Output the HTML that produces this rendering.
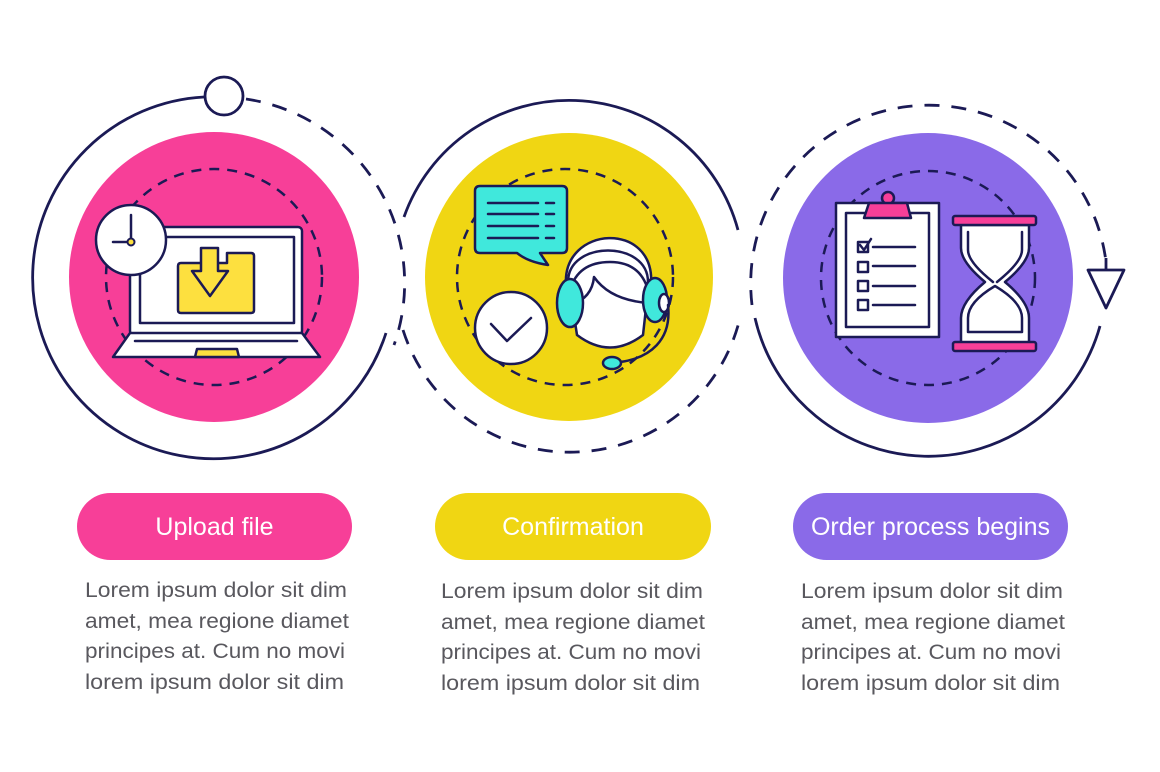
<!DOCTYPE html>
<html><head><meta charset="utf-8"><style>
html,body{margin:0;padding:0;background:#fff;}
svg{display:block;}
text{font-family:"Liberation Sans",sans-serif;}
</style></head><body>
<svg width="1160" height="772" viewBox="0 0 1160 772" xmlns="http://www.w3.org/2000/svg">
<g fill="none" stroke="#1b1a55" stroke-width="2.8">
  <!-- circle 1 outer -->
  <path d="M204,97 A181,181 0 1 0 386,333"/>
  <path d="M246,99 A186,186 0 0 1 394,345" stroke-dasharray="15,12"/>
  <circle cx="224" cy="96" r="19" fill="#fff"/>
  <!-- circle 2 outer -->
  <path d="M404,217 A175,175 0 0 1 738,230"/>
  <path d="M403,330 A175,175 0 0 0 739,322" stroke-dasharray="15,12"/>
  <!-- circle 3 outer -->
  <path d="M752,305 A178,178 0 0 1 1106,262" stroke-dasharray="15,12"/>
  <line x1="1106" y1="258" x2="1106" y2="270"/>
  <path d="M1100,326 A178,178 0 0 1 755,318"/>
  <polygon points="1088,270 1124,270 1106,308" fill="#fff" stroke-linejoin="round"/>
</g>
<!-- filled circles -->
<circle cx="214" cy="277" r="145" fill="#f73f98"/>
<circle cx="569" cy="277" r="144" fill="#f0d613"/>
<circle cx="928" cy="278" r="145" fill="#8a6ae8"/>
<g fill="none" stroke="#1b1a55" stroke-width="2.5" stroke-dasharray="10,8">
  <circle cx="214" cy="277" r="108"/>
  <circle cx="565" cy="277" r="108"/>
  <circle cx="928" cy="278" r="107"/>
</g>
<!-- laptop icon -->
<g stroke="#1b1a55" stroke-width="2.5" stroke-linejoin="round" stroke-linecap="round">
  <rect x="130" y="227" width="172" height="108" rx="4" fill="#fff"/>
  <rect x="140" y="237" width="154" height="86" fill="#fff"/>
  <polygon points="130,333 302,333 320,357 113,357" fill="#fff"/>
  <line x1="135" y1="341" x2="297" y2="341" fill="none"/>
  <polygon points="197,349 237,349 239,357 195,357" fill="#fde03f"/>
  <path d="M181,263 H227 V253 H251 Q254,253 254,256 V310 Q254,313 251,313 H181 Q178,313 178,310 V266 Q178,263 181,263 Z" fill="#fde03f"/>
  <polygon points="201,248 218,248 218,271 228,271 210,296 192,271 201,271" fill="#fde03f"/>
  <circle cx="131" cy="240" r="35" fill="#fff"/>
  <line x1="131" y1="215" x2="131" y2="240" fill="none"/>
  <line x1="113" y1="242" x2="128" y2="242" fill="none"/>
  <circle cx="131" cy="242" r="3.5" fill="#fde03f" stroke-width="2"/>
</g>
<!-- confirmation icon -->
<g stroke="#1b1a55" stroke-width="2.5" stroke-linejoin="round" stroke-linecap="round">
  <path d="M480,186 H562 Q567,186 567,191 V248 Q567,253 562,253 H540 L548,265 Q528,262 517,253 H480 Q475,253 475,248 V191 Q475,186 480,186 Z" fill="#40e8dc"/>
  <g fill="none">
    <line x1="488" y1="203" x2="538" y2="203"/><line x1="546" y1="203" x2="554" y2="203"/>
    <line x1="488" y1="214" x2="538" y2="214"/><line x1="546" y1="214" x2="554" y2="214"/>
    <line x1="488" y1="226" x2="538" y2="226"/><line x1="546" y1="226" x2="554" y2="226"/>
    <line x1="488" y1="238" x2="538" y2="238"/><line x1="546" y1="238" x2="554" y2="238"/>
  </g>
  <circle cx="511" cy="328" r="36" fill="#fff"/>
  <polyline points="491,324 507,341 531,318" fill="none"/>
  <path d="M566,285 C562,225 656,220 651,285 Z" fill="#fff"/>
  <path d="M568,282 C568,240 648,240 648,282" fill="none"/>
  <path d="M570,290 L577,335 Q610,360 643,335 L648,290 Q640,262 610,262 Q578,262 570,290 Z" fill="#fff"/>
  <path d="M571,305 Q592,298 594,277 Q610,300 648,303" fill="none"/>
  <ellipse cx="570" cy="303" rx="13" ry="24" fill="#40e8dc"/>
  <ellipse cx="655" cy="300" rx="12" ry="22" fill="#40e8dc"/>
  <ellipse cx="664" cy="303" rx="5" ry="9" fill="#fff"/>
  <path d="M668,305 C672,340 650,358 620,362" fill="none"/>
  <ellipse cx="612" cy="363" rx="9" ry="6" fill="#40e8dc"/>
</g>
<!-- clipboard & hourglass -->
<g stroke="#1b1a55" stroke-width="2.5" stroke-linejoin="round" stroke-linecap="round">
  <rect x="836" y="203" width="103" height="134" fill="#fff"/>
  <rect x="846" y="213" width="83" height="114" fill="#fff"/>
  <circle cx="888" cy="198" r="6" fill="#f73f98"/>
  <polygon points="869,203 907,203 911,218 864,218" fill="#f73f98"/>
  <g fill="#fff">
    <rect x="858" y="242" width="10" height="10"/>
    <rect x="858" y="262" width="10" height="10"/>
    <rect x="858" y="281" width="10" height="10"/>
    <rect x="858" y="300" width="10" height="10"/>
  </g>
  <polyline points="860,245 864,250 871,239" fill="none"/>
  <g fill="none">
    <line x1="873" y1="247" x2="915" y2="247"/>
    <line x1="873" y1="266" x2="915" y2="266"/>
    <line x1="873" y1="286" x2="915" y2="286"/>
    <line x1="873" y1="305" x2="915" y2="305"/>
  </g>
  <path d="M961,225 V248 Q961,262 985,282 Q961,302 961,318 V343 H1029 V318 Q1029,302 1005,282 Q1029,262 1029,248 V225 Z" fill="#fff"/>
  <path d="M968,232 V250 Q968,262 993,282 M1022,232 V250 Q1022,262 997,282 M968,332 V318 Q968,302 995,286 Q1022,302 1022,318 V332 Z" fill="none"/>
  <rect x="953" y="216" width="83" height="9" rx="2" fill="#f73f98"/>
  <rect x="953" y="342" width="83" height="9" rx="2" fill="#f73f98"/>
</g>
<!-- pills -->
<rect x="77" y="493" width="275" height="67" rx="33.5" fill="#f73f98"/>
<rect x="435" y="493" width="276" height="67" rx="33.5" fill="#f0d613"/>
<rect x="793" y="493" width="275" height="67" rx="33.5" fill="#8a6ae8"/>
<g fill="#fff" font-size="25" text-anchor="middle">
  <text x="214.5" y="535">Upload file</text>
  <text x="573" y="535">Confirmation</text>
  <text x="930.5" y="535">Order process begins</text>
</g>
<g fill="#59585e" font-size="21">
  <text x="85" y="597" textLength="262" lengthAdjust="spacingAndGlyphs">Lorem ipsum dolor sit dim</text>
  <text x="85" y="628" textLength="264" lengthAdjust="spacingAndGlyphs">amet, mea regione diamet</text>
  <text x="85" y="658" textLength="260" lengthAdjust="spacingAndGlyphs">principes at. Cum no movi</text>
  <text x="85" y="689" textLength="259" lengthAdjust="spacingAndGlyphs">lorem ipsum dolor sit dim</text>
  <text x="441" y="598" textLength="262" lengthAdjust="spacingAndGlyphs">Lorem ipsum dolor sit dim</text>
  <text x="441" y="629" textLength="264" lengthAdjust="spacingAndGlyphs">amet, mea regione diamet</text>
  <text x="441" y="659" textLength="260" lengthAdjust="spacingAndGlyphs">principes at. Cum no movi</text>
  <text x="441" y="690" textLength="259" lengthAdjust="spacingAndGlyphs">lorem ipsum dolor sit dim</text>
  <text x="801" y="598" textLength="262" lengthAdjust="spacingAndGlyphs">Lorem ipsum dolor sit dim</text>
  <text x="801" y="629" textLength="264" lengthAdjust="spacingAndGlyphs">amet, mea regione diamet</text>
  <text x="801" y="659" textLength="260" lengthAdjust="spacingAndGlyphs">principes at. Cum no movi</text>
  <text x="801" y="690" textLength="259" lengthAdjust="spacingAndGlyphs">lorem ipsum dolor sit dim</text>
</g>
</svg>
</body></html>
